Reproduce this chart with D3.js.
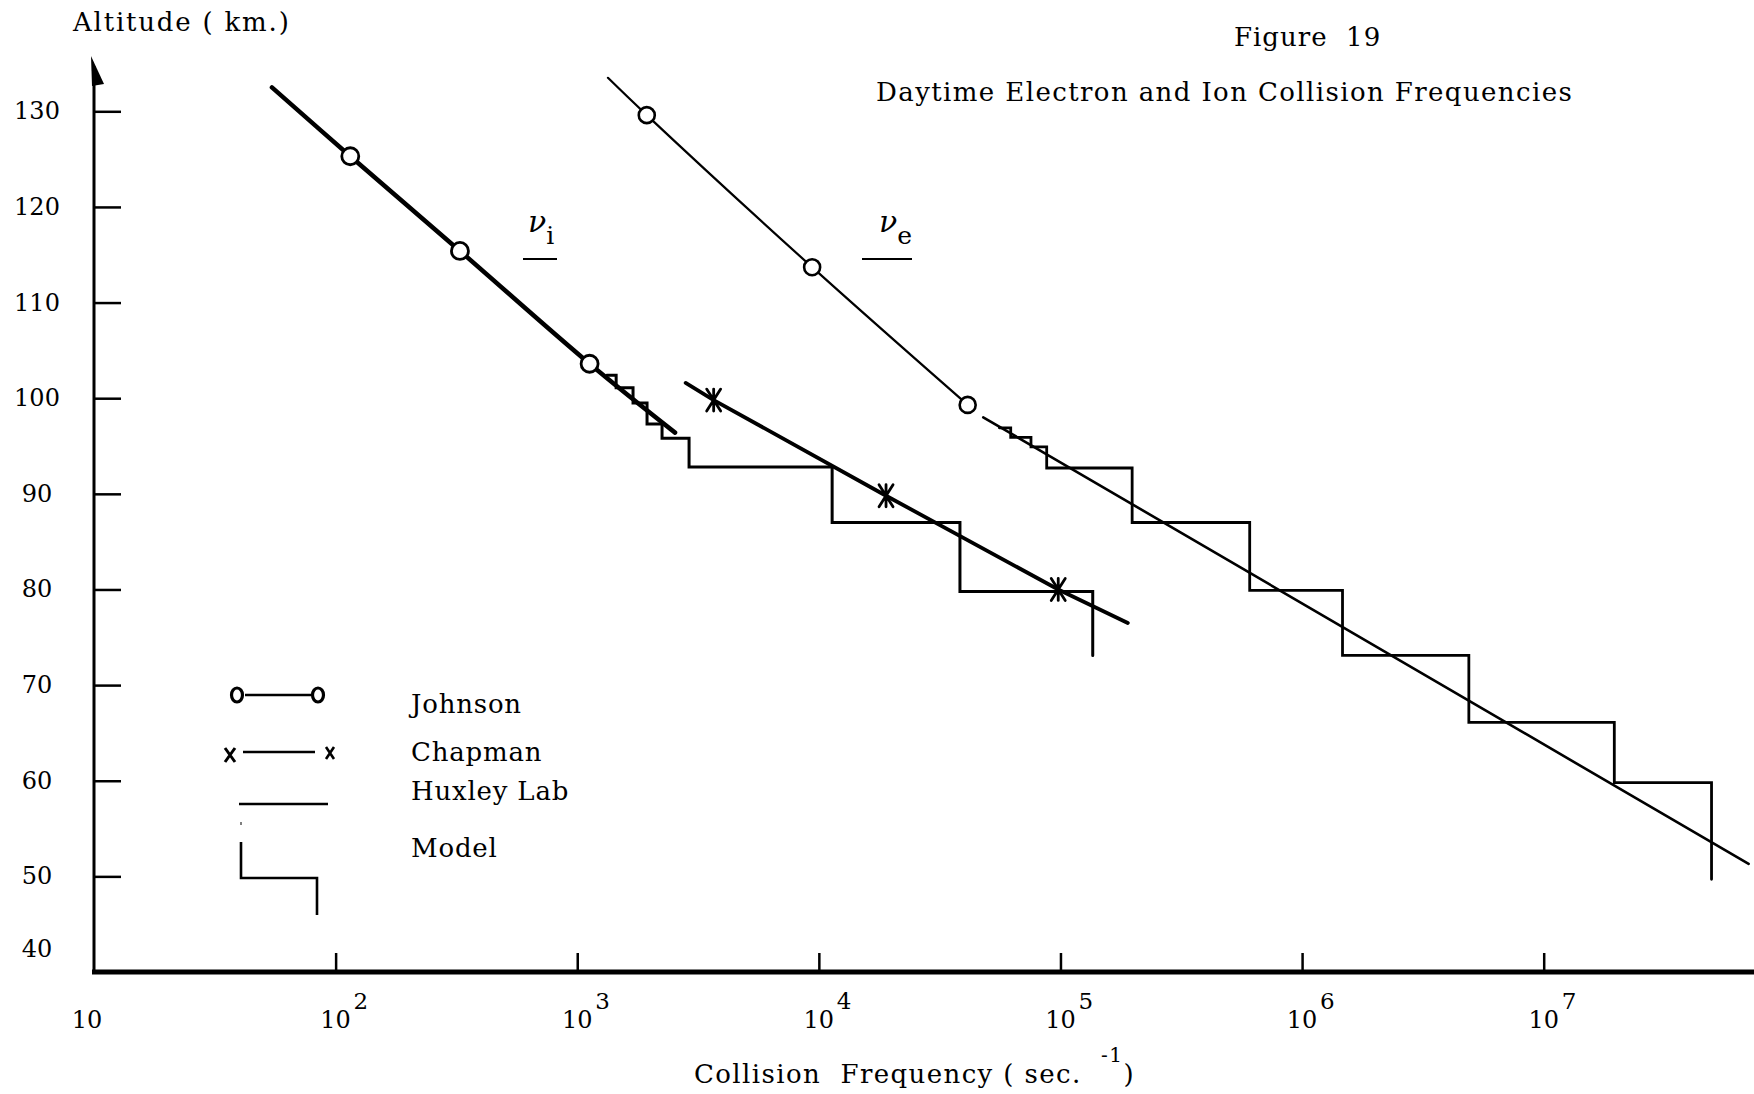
<!DOCTYPE html>
<html>
<head>
<meta charset="utf-8">
<script src="https://cdn.jsdelivr.net/npm/d3@7"></script>
<style>
body { margin: 0; background: #fff; }
svg { display: block; }
text { font-family: "DejaVu Serif", serif; fill: #000; }
</style>
</head>
<body>
<div class="chartWrapper"></div>
<script>
"use strict";

var width = 1754;
var height = 1094;

// axis ticks
var altTicks = [50, 60, 70, 80, 90, 100, 110, 120, 130];
var altLabels = [40, 50, 60, 70, 80, 90, 100, 110, 120, 130];
var freqTicks = [1e2, 1e3, 1e4, 1e5, 1e6, 1e7];
var freqLabelExps = [1, 2, 3, 4, 5, 6, 7];

// [frequency (1/s), altitude (km)]
var johnsonIonLine = [[54.5, 132.5], [115, 125.3], [327, 115.4], [1125, 103.6], [2540, 96.4]];
var johnsonIonPoints = [[115, 125.3], [327, 115.4], [1125, 103.6]];
var johnsonElecLine = [[1340, 133.5], [1940, 129.6], [9380, 113.7], [41300, 99.3]];
var johnsonElecPoints = [[1940, 129.6], [9380, 113.7], [41300, 99.3]];
var chapmanIonLine = [[2810, 101.6], [3670, 99.8], [18970, 89.8], [97900, 80.0], [190000, 76.5]];
var chapmanIonPoints = [[3670, 99.8], [18970, 89.8], [97900, 80.0]];
var huxleyElecLine = [[47900, 98.0], [7.05e7, 51.3]];

// model step functions: frequency of each step and the altitude where it ends
var modelIonFreq = [1324, 1449, 1702, 1945, 2244, 2903, 11350, 38370, 136000];
var modelIonAlt = [102.4, 101.1, 99.5, 97.3, 95.8, 92.8, 87.0, 79.8, 73.1];
var modelElecFreq = [55840, 62240, 75500, 87700, 198000, 607000, 1470000, 4900000, 19600000, 49500000];
var modelElecAlt = [96.9, 95.9, 94.9, 92.7, 87.0, 79.9, 73.1, 66.1, 59.8, 49.7];

var legendNames = ["Johnson", "Chapman", "Huxley Lab", "Model"];

var x = d3.scaleLog().domain([10, 1e7]).range([94, 1543.7]);
var y = d3.scaleLinear().domain([40, 130]).range([972, 111.3]);

var svg = d3.select(".chartWrapper").append("svg")
  .attr("width", width).attr("height", height)
  .attr("viewBox", "0 0 " + width + " " + height);

svg.append("rect").attr("width", width).attr("height", height).attr("fill", "#fff");

var line = d3.line().x(function (d) { return x(d[0]); }).y(function (d) { return y(d[1]); });
var smooth = d3.line().curve(d3.curveCatmullRom).x(function (d) { return x(d[0]); }).y(function (d) { return y(d[1]); });

function stepPoints(freqs, alts) {
  var pts = [[freqs[0], alts[0]]];
  for (var i = 1; i < freqs.length; i++) {
    pts.push([freqs[i], alts[i - 1]]);
    pts.push([freqs[i], alts[i]]);
  }
  return pts;
}

// ---- axes
var gX = svg.append("g").attr("class", "axis axis-x")
  .attr("transform", "translate(0," + y(40) + ")")
  .call(d3.axisBottom(x).tickValues(freqTicks).tickSize(-19).tickSizeOuter(0).tickFormat(""));
gX.select(".domain").remove();
gX.selectAll(".tick line").attr("stroke", "#000").attr("stroke-width", 2.5);
svg.append("line")
  .attr("x1", x(10) - 2).attr("x2", width)
  .attr("y1", y(40)).attr("y2", y(40))
  .attr("stroke", "#000").attr("stroke-width", 5);

var gY = svg.append("g").attr("class", "axis axis-y")
  .attr("transform", "translate(" + x(10) + ",0)")
  .call(d3.axisLeft(y).tickValues(altTicks).tickSize(-27).tickSizeOuter(0).tickFormat(""));
gY.select(".domain").remove();
gY.selectAll(".tick line").attr("stroke", "#000").attr("stroke-width", 2.5);
svg.append("line")
  .attr("x1", x(10)).attr("x2", x(10))
  .attr("y1", y(40)).attr("y2", 66)
  .attr("stroke", "#000").attr("stroke-width", 3);
svg.append("path")
  .attr("d", "M" + (x(10) - 3) + ",56 L" + (x(10) + 10) + ",84 L" + (x(10) - 2) + ",86 Z")
  .attr("fill", "#000");

// y tick labels
svg.selectAll(".altLabel").data(altLabels).enter().append("text")
  .attr("class", "altLabel")
  .attr("x", 37)
  .attr("y", function (d) { return y(d) + (d === 40 ? -15 : 8); })
  .attr("text-anchor", "middle")
  .attr("font-size", 24)
  .text(function (d) { return d; });

// x tick labels: 10, 10^2 ... 10^7
var xl = svg.selectAll(".freqLabel").data(freqLabelExps).enter().append("g").attr("class", "freqLabel");
xl.append("text")
  .attr("x", function (d) { return x(Math.pow(10, d)) - (d === 1 ? 7 : 0); })
  .attr("y", 1028)
  .attr("text-anchor", "middle")
  .attr("font-size", 24)
  .text("10");
xl.filter(function (d) { return d > 1; }).append("text")
  .attr("x", function (d) { return x(Math.pow(10, d)) + 18; })
  .attr("y", 1009)
  .attr("font-size", 23)
  .text(function (d) { return d; });

// axis titles
svg.append("text").attr("x", 73).attr("y", 31).attr("font-size", 26)
  .attr("letter-spacing", 1.8)
  .style("white-space", "pre").text("Altitude ( km.)");

var xt = svg.append("text").attr("x", 694).attr("y", 1083).attr("font-size", 26)
  .attr("letter-spacing", 1.4).style("white-space", "pre");
xt.append("tspan").text("Collision  Frequency ( sec.  ");
xt.append("tspan").attr("dy", -21).attr("font-size", 20).text("-1");
xt.append("tspan").attr("dy", 21).text(")");

// figure titles
svg.append("text").attr("x", 1234).attr("y", 46).attr("font-size", 26)
  .attr("letter-spacing", 1)
  .style("white-space", "pre").text("Figure  19");
svg.append("text").attr("x", 876).attr("y", 101).attr("font-size", 26)
  .attr("letter-spacing", 1.4)
  .text("Daytime Electron and Ion Collision Frequencies");

// ---- data
var plot = svg.append("g").attr("class", "plot")
  .attr("fill", "none").attr("stroke", "#000").attr("stroke-linecap", "round").attr("stroke-linejoin", "miter");

plot.append("path").datum(stepPoints(modelIonFreq, modelIonAlt)).attr("d", line).attr("stroke-width", 3);
plot.append("path").datum(stepPoints(modelElecFreq, modelElecAlt)).attr("d", line).attr("stroke-width", 2.8);

plot.append("path").datum(huxleyElecLine).attr("d", line).attr("stroke-width", 2.6);
plot.append("path").datum(chapmanIonLine).attr("d", line).attr("stroke-width", 3.8);
plot.append("path").datum(johnsonIonLine).attr("d", smooth).attr("stroke-width", 4.5);
plot.append("path").datum(johnsonElecLine).attr("d", smooth).attr("stroke-width", 2.2);

plot.selectAll(".jIon").data(johnsonIonPoints).enter().append("circle")
  .attr("class", "jIon")
  .attr("cx", function (d) { return x(d[0]); }).attr("cy", function (d) { return y(d[1]); })
  .attr("r", 8.5).attr("fill", "#fff").attr("stroke-width", 2.8);
plot.selectAll(".jElec").data(johnsonElecPoints).enter().append("circle")
  .attr("class", "jElec")
  .attr("cx", function (d) { return x(d[0]); }).attr("cy", function (d) { return y(d[1]); })
  .attr("r", 8).attr("fill", "#fff").attr("stroke-width", 2.6);
plot.selectAll(".chap").data(chapmanIonPoints).enter().append("path")
  .attr("class", "chap")
  .attr("transform", function (d) { return "translate(" + x(d[0]) + "," + y(d[1]) + ")"; })
  .attr("d", "M-7,-11L7,11M7,-11L-7,11M0,-11L0,11")
  .attr("stroke-width", 2.8);

// nu labels
function nuLabel(cx, sub, ux1, ux2) {
  var t = svg.append("text").attr("x", cx).attr("y", 232).attr("font-size", 30);
  t.append("tspan").attr("font-style", "italic").text("\u03bd");
  t.append("tspan").attr("dy", 12).attr("font-size", 25).text(sub);
  svg.append("line").attr("x1", ux1).attr("x2", ux2).attr("y1", 259).attr("y2", 259)
    .attr("stroke", "#000").attr("stroke-width", 1.8);
}
nuLabel(528, "i", 523, 557);
nuLabel(879, "e", 862, 912);

// ---- legend
var leg = svg.append("g").attr("class", "legend")
  .attr("fill", "none").attr("stroke", "#000").attr("stroke-width", 2.6);
leg.append("line").attr("x1", 245).attr("x2", 311).attr("y1", 695).attr("y2", 695);
leg.append("ellipse").attr("cx", 237).attr("cy", 695).attr("rx", 5.5).attr("ry", 7).attr("stroke-width", 3.2);
leg.append("ellipse").attr("cx", 318).attr("cy", 695).attr("rx", 5.5).attr("ry", 7).attr("stroke-width", 3.2);
leg.append("line").attr("x1", 243).attr("x2", 315).attr("y1", 752).attr("y2", 752);
leg.append("path").attr("d", "M225,748L235,762M235,748L225,762").attr("stroke-width", 3);
leg.append("path").attr("d", "M326,747L334,759M334,747L326,759").attr("stroke-width", 2.6);
leg.append("line").attr("x1", 239).attr("x2", 328).attr("y1", 804).attr("y2", 804);
leg.append("line").attr("x1", 241).attr("x2", 241).attr("y1", 822).attr("y2", 825).attr("stroke-width", 1);
leg.append("path").attr("d", "M241,842L241,878L317,878L317,915");

svg.selectAll(".legText").data(legendNames).enter().append("text")
  .attr("class", "legText")
  .attr("x", 411)
  .attr("y", function (d, i) { return [713, 761, 800, 857][i]; })
  .attr("font-size", 26)
  .attr("letter-spacing", 0.8)
  .text(function (d) { return d; });
</script>
</body>
</html>
